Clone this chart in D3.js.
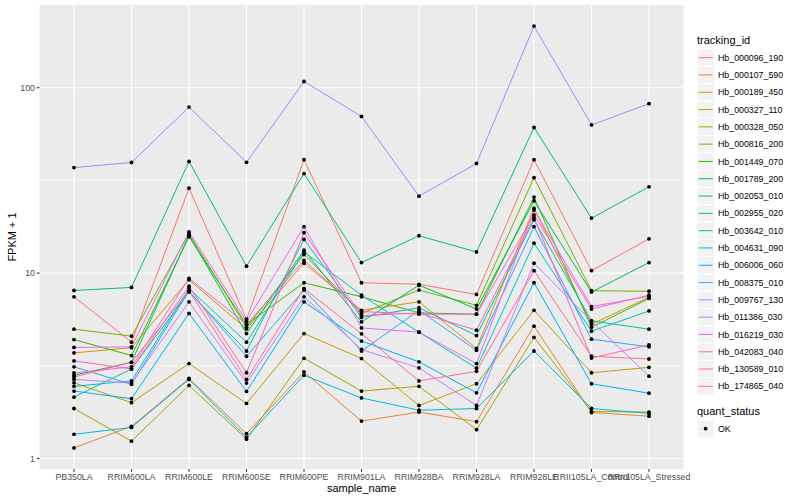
<!DOCTYPE html>
<html><head><meta charset="utf-8">
<script src="https://cdn.jsdelivr.net/npm/d3@7"></script>
<style>body{margin:0;background:#fff}svg{display:block}</style>
</head><body>
<svg id="c" width="800" height="500"></svg>
<script>
const samples = ["PB350LA","RRIM600LA","RRIM600LE","RRIM600SE","RRIM600PE","RRIM901LA","RRIM928BA","RRIM928LA","RRIM928LE","RRII105LA_Control","RRII105LA_Stressed"];
const trackingIds = ["Hb_000096_190","Hb_000107_590","Hb_000189_450","Hb_000327_110","Hb_000328_050","Hb_000816_200","Hb_001449_070","Hb_001789_200","Hb_002053_010","Hb_002955_020","Hb_003642_010","Hb_004631_090","Hb_006006_060","Hb_008375_010","Hb_009767_130","Hb_011386_030","Hb_016219_030","Hb_042083_040","Hb_130589_010","Hb_174865_040"];
const colors = ["#F8766D","#EA8331","#D89000","#C09B00","#A3A500","#7CAE00","#39B600","#00BB4E","#00BF7D","#00C1A3","#00BFC4","#00BAE0","#00B0F6","#35A2FF","#9590FF","#C77CFF","#E76BF3","#FA62DB","#FF62BC","#FF6C91"];
// FPKM + 1 per tracking id, in sample order
const v000096_190 = [7.45,4.24,28.7,5.64,40.9,8.87,8.7,7.67,40.9,10.3,15.3];
const v000107_590 = [1.14,1.49,2.70,1.36,2.93,1.59,1.78,1.58,5.17,1.77,1.69];
const v000189_450 = [3.71,3.96,9.2,5.0,11.3,6.3,7.0,3.92,22.4,5.3,7.4];
const v000327_110 = [2.56,2.0,3.25,1.98,4.72,3.46,1.93,2.53,6.3,2.9,3.1];
const v000328_050 = [1.86,1.24,2.48,1.27,3.47,2.31,2.45,1.43,4.5,1.79,1.78];
const v000816_200 = [4.98,4.57,16.3,5.1,12.6,6.06,8.1,6.7,32.7,8.03,7.98];
const v001449_070 = [4.38,3.59,15.7,5.28,8.87,7.45,6.1,6.0,25.7,5.1,7.3];
const v001789_200 = [2.81,3.30,16.0,4.72,13.3,5.45,8.6,6.4,24.5,7.9,11.4];
const v002053_010 = [8.06,8.37,40,10.9,34.4,11.4,15.9,13.0,61,19.8,29.2];
const v002955_020 = [2.14,3.04,7.9,3.8,15.2,5.76,6.5,4.6,19.4,5.53,4.98];
const v003642_010 = [2.45,2.62,8.26,4.24,13.0,7.6,4.8,3.07,14.5,4.86,6.25];
const v004631_090 = [1.35,1.47,2.67,1.3,2.81,2.12,1.82,1.86,3.8,1.86,1.75];
const v006006_060 = [2.31,2.10,6.06,2.3,7.0,4.3,3.32,2.26,8.87,2.53,2.25];
const v008375_010 = [3.12,2.51,8.0,3.56,8.1,3.8,6.3,3.83,17.8,4.4,4.0];
const v009767_130 = [37.1,39.5,78.6,39.6,108,70,26,39,215,63,82];
const v011386_030 = [2.67,2.55,7.0,2.55,7.45,3.87,3.08,1.93,11.3,5.5,2.78];
const v016219_030 = [3.97,4.0,16.7,5.5,17.8,5.06,4.8,3.25,21.9,6.6,7.5];
const v042083_040 = [2.89,3.12,9.37,5.3,11.7,6.2,6.0,6.0,20.6,6.4,7.6];
const v130589_010 = [3.36,3.04,8.5,2.9,16.5,5.9,6.1,4.92,19.9,3.48,4.1];
const v174865_040 = [2.75,3.3,8.0,2.67,8.26,4.7,2.62,2.95,10.3,3.56,3.44];
const seriesValues = [v000096_190,v000107_590,v000189_450,v000327_110,v000328_050,v000816_200,v001449_070,v001789_200,v002053_010,v002955_020,v003642_010,v004631_090,v006006_060,v008375_010,v009767_130,v011386_030,v016219_030,v042083_040,v130589_010,v174865_040];
const yTicks = [1,10,100];
const yMinor = [Math.sqrt(10),Math.sqrt(1000)];
const quantStatus = ["OK"];

const svg = d3.select("#c");
const L=39.5,R=683.5,T=5,B=469;
const all = seriesValues.flat();
const lo = Math.log10(d3.min(all)), hi = Math.log10(d3.max(all)), ex=(hi-lo)*0.05;
const x = d3.scalePoint().domain(samples).range([L,R]).padding(0.6);
const y = d3.scaleLog().domain([Math.pow(10,lo-ex),Math.pow(10,hi+ex)]).range([B,T]);

svg.append("rect").attr("x",L).attr("y",T).attr("width",R-L).attr("height",B-T).attr("fill","#EBEBEB");
const g = svg.append("g");
g.selectAll(".mn").data(yMinor).join("line").attr("x1",L).attr("x2",R).attr("y1",d=>y(d)).attr("y2",d=>y(d)).attr("stroke","#fff").attr("stroke-width",0.55);
g.selectAll(".mj").data(yTicks).join("line").attr("x1",L).attr("x2",R).attr("y1",d=>y(d)).attr("y2",d=>y(d)).attr("stroke","#fff").attr("stroke-width",1.1);
g.selectAll(".vx").data(samples).join("line").attr("x1",d=>x(d)).attr("x2",d=>x(d)).attr("y1",T).attr("y2",B).attr("stroke","#fff").attr("stroke-width",1.1);

const line = d3.line().x((d,i)=>x(samples[i])).y(d=>y(d));
seriesValues.forEach((vals,k)=>{
  g.append("path").attr("d",line(vals)).attr("fill","none").attr("stroke",colors[k]).attr("stroke-width",1);
});
seriesValues.forEach((vals,k)=>{
  g.selectAll(null).data(vals).join("circle").attr("cx",(d,i)=>x(samples[i])).attr("cy",d=>y(d)).attr("r",1.9).attr("fill","#000");
});

// axes
const ax = svg.append("g").attr("font-family","Liberation Sans, Arial, sans-serif");
yTicks.forEach(t=>{
  ax.append("line").attr("x1",L-2.75).attr("x2",L).attr("y1",y(t)).attr("y2",y(t)).attr("stroke","#333").attr("stroke-width",1.1);
  ax.append("text").attr("x",L-4.5).attr("y",y(t)).attr("dy","0.35em").attr("text-anchor","end").attr("font-size",8.8).attr("fill","#4D4D4D").text(t);
});
samples.forEach(s=>{
  ax.append("line").attr("x1",x(s)).attr("x2",x(s)).attr("y1",B).attr("y2",B+2.75).attr("stroke","#333").attr("stroke-width",1.1);
  ax.append("text").attr("x",x(s)).attr("y",B+11).attr("text-anchor","middle").attr("font-size",8.8).attr("fill","#4D4D4D").text(s);
});
ax.append("text").attr("x",(L+R)/2).attr("y",492).attr("text-anchor","middle").attr("font-size",11).attr("fill","#000").text("sample_name");
ax.append("text").attr("transform",`translate(16,${(T+B)/2}) rotate(-90)`).attr("text-anchor","middle").attr("font-size",11).attr("fill","#000").text("FPKM + 1");

// legend
const lg = svg.append("g").attr("font-family","Liberation Sans, Arial, sans-serif");
lg.append("text").attr("x",697).attr("y",44).attr("font-size",11).text("tracking_id");
const k0=49, kh=17.3;
trackingIds.forEach((id,i)=>{
  const yy=k0+i*kh;
  lg.append("rect").attr("x",697).attr("y",yy).attr("width",17.3).attr("height",kh).attr("fill","#F2F2F2").attr("stroke","#fff").attr("stroke-width",1);
  lg.append("line").attr("x1",698.7).attr("x2",712.6).attr("y1",yy+kh/2).attr("y2",yy+kh/2).attr("stroke",colors[i]).attr("stroke-width",1);
  lg.append("text").attr("x",718).attr("y",yy+kh/2).attr("dy","0.35em").attr("font-size",8.8).attr("fill","#000").text(id);
});
lg.append("text").attr("x",697).attr("y",415).attr("font-size",11).text("quant_status");
quantStatus.forEach((q,i)=>{
  const yy=420+i*kh;
  lg.append("rect").attr("x",697).attr("y",yy).attr("width",17.3).attr("height",kh).attr("fill","#F2F2F2").attr("stroke","#fff");
  lg.append("circle").attr("cx",705.6).attr("cy",yy+kh/2).attr("r",1.9).attr("fill","#000");
  lg.append("text").attr("x",718).attr("y",yy+kh/2).attr("dy","0.35em").attr("font-size",8.8).text(q);
});
</script>
</body></html>
